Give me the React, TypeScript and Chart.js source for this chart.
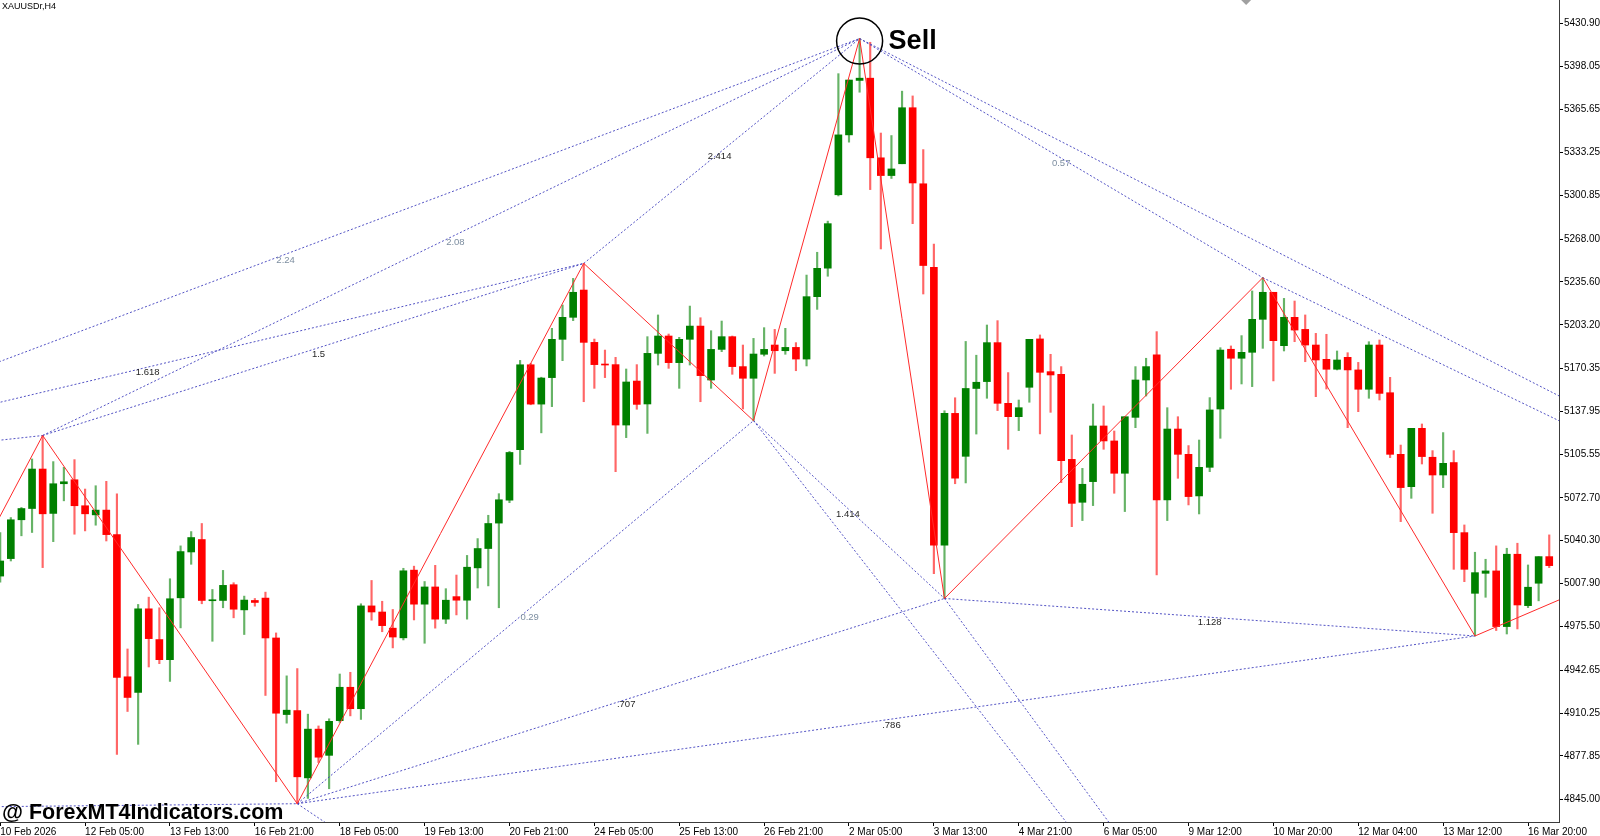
import React, { useEffect, useRef } from 'react';
import { Chart, registerables } from 'chart.js';

Chart.register(...registerables);

const symbolLabel = 'XAUUSDr,H4';
const watermarkText = '@ ForexMT4Indicators.com';

// H4 bars; bar index 0 = 12 Feb 05:00, first visible bar index = -8
const firstBarIndex = -8;

const barOpen = [
  5013.6, 5026.8, 5056.1, 5064.6, 5094.4, 5060.9, 5083.3, 5086.3,
  5066.7, 5059.8, 5063.4, 5044.9, 4937.6, 4925.8, 4988.9, 4965.7, 4950.5, 4997.2,
  5031.8, 5041.2, 4995.0, 4995.2, 5007.1, 4988.1, 4995.2, 4997.0, 4966.9, 4909.1,
  4912.1, 4861.3, 4898.1, 4878.3, 4904.5, 4929.7, 4913.5, 4991.1, 4986.5, 4974.3,
  4967.0, 5018.1, 4992.4, 5005.4, 4981.1, 4998.1, 4995.4, 5019.8, 5034.4, 5053.6,
  5070.9, 5109.0, 5173.1, 5143.4, 5163.4, 5192.3, 5208.9, 5229.5, 5190.0, 5173.4,
  5173.2, 5127.6, 5160.8, 5143.5, 5181.7, 5194.8, 5174.7, 5192.3, 5202.3, 5161.6,
  5184.7, 5194.3, 5171.7, 5162.9, 5181.0, 5188.0, 5183.7, 5186.2, 5177.4, 5224.5,
  5246.0, 5301.4, 5346.6, 5387.7, 5389.4, 5329.3, 5315.9, 5324.8, 5367.1, 5309.7,
  5246.6, 5036.9, 5136.4, 5104.0, 5155.2, 5160.4, 5189.8, 5144.0, 5133.9, 5156.1,
  5192.6, 5167.9, 5165.9, 5101.7, 5069.3, 5084.9, 5126.9, 5115.6, 5091.2, 5133.4,
  5161.6, 5180.5, 5071.1, 5124.6, 5105.5, 5074.1, 5095.7, 5139.7, 5184.8, 5178.0,
  5182.5, 5207.4, 5227.8, 5187.5, 5208.9, 5199.8, 5188.0, 5177.2, 5169.7, 5178.7,
  5169.2, 5154.6, 5188.0, 5152.0, 5105.5, 5081.1, 5125.1, 5103.3, 5089.9, 5099.3,
  5046.4, 5000.6, 5015.7, 5017.5, 4975.5, 5030.1, 4991.3, 5008.2, 5028.3,
];

const barHigh = [
  5046.5, 5057.8, 5065.4, 5102.0, 5119.7, 5100.0, 5095.7, 5101.5,
  5079.3, 5081.8, 5085.1, 5075.7, 4958.6, 4992.2, 4997.7, 4989.7, 5011.6, 5036.4,
  5047.2, 5053.3, 5003.5, 5017.9, 5008.6, 4998.5, 4996.7, 5001.5, 4970.7, 4938.3,
  4943.8, 4909.4, 4900.5, 4905.9, 4939.7, 4941.0, 4992.7, 5010.3, 4994.6, 4988.4,
  5019.5, 5021.1, 5009.5, 5021.7, 5004.1, 5014.4, 5029.2, 5041.9, 5059.5, 5075.8,
  5107.7, 5176.4, 5174.2, 5163.7, 5200.6, 5218.2, 5238.3, 5249.6, 5192.5, 5184.2,
  5178.7, 5169.9, 5173.2, 5194.3, 5210.7, 5196.3, 5193.8, 5217.4, 5208.6, 5198.8,
  5206.1, 5194.8, 5188.0, 5193.0, 5201.1, 5199.8, 5200.6, 5189.8, 5240.8, 5258.0,
  5281.5, 5392.8, 5388.0, 5419.3, 5416.5, 5348.0, 5346.1, 5379.6, 5376.0, 5335.5,
  5264.2, 5138.4, 5148.2, 5190.7, 5180.3, 5203.1, 5206.4, 5167.2, 5146.5, 5192.3,
  5195.6, 5181.0, 5171.7, 5120.1, 5094.9, 5143.5, 5142.0, 5123.1, 5133.9, 5171.7,
  5178.0, 5198.1, 5140.7, 5133.9, 5112.1, 5116.3, 5148.3, 5186.0, 5187.3, 5195.1,
  5228.8, 5238.8, 5227.8, 5223.2, 5221.2, 5210.7, 5196.8, 5196.1, 5183.5, 5182.2,
  5174.9, 5190.5, 5191.8, 5163.6, 5112.5, 5125.1, 5128.4, 5108.3, 5121.9, 5108.3,
  5052.2, 5031.6, 5026.3, 5036.4, 5034.6, 5038.4, 5022.0, 5028.3, 5044.7,
];

const barLow = [
  5009.1, 5025.0, 5044.0, 5046.5, 5020.0, 5039.6, 5070.4, 5045.2,
  5047.7, 5052.0, 5040.1, 4879.1, 4911.4, 4886.6, 4945.0, 4947.5, 4934.1, 4974.5,
  5022.5, 4992.7, 4964.4, 4989.7, 4982.1, 4969.5, 4990.9, 4923.5, 4858.4, 4902.6,
  4841.8, 4845.8, 4872.9, 4853.1, 4903.2, 4908.1, 4905.4, 4980.3, 4971.6, 4959.4,
  4965.4, 4980.5, 4962.9, 4974.3, 4977.8, 4984.3, 4981.1, 5004.6, 5006.2, 4989.7,
  5069.0, 5097.9, 5142.9, 5121.7, 5141.5, 5176.2, 5206.4, 5145.2, 5155.3, 5163.4,
  5092.4, 5118.1, 5139.5, 5121.3, 5172.9, 5170.4, 5155.3, 5172.9, 5145.2, 5155.3,
  5183.0, 5165.9, 5139.7, 5130.9, 5179.7, 5166.6, 5181.0, 5168.6, 5172.2, 5214.9,
  5239.9, 5300.5, 5341.1, 5378.8, 5305.3, 5260.5, 5313.7, 5324.8, 5279.6, 5226.5,
  5015.4, 4996.7, 5083.3, 5083.9, 5120.8, 5147.8, 5138.5, 5109.3, 5123.4, 5144.8,
  5120.9, 5137.2, 5084.1, 5050.9, 5055.5, 5066.8, 5109.3, 5076.1, 5062.3, 5125.6,
  5149.5, 5014.5, 5055.5, 5087.4, 5067.3, 5060.5, 5092.4, 5117.6, 5154.6, 5158.6,
  5156.6, 5185.5, 5160.9, 5183.5, 5190.5, 5175.4, 5149.0, 5154.8, 5169.2, 5125.6,
  5137.7, 5147.8, 5146.5, 5103.0, 5054.7, 5072.3, 5098.2, 5061.0, 5080.4, 5018.7,
  5009.4, 4968.4, 4997.6, 4972.5, 4969.9, 4973.7, 4989.8, 4994.9, 5020.0,
];

const barClose = [
  5025.0, 5056.1, 5064.6, 5094.4, 5060.6, 5083.3, 5084.8, 5066.7,
  5060.6, 5063.4, 5044.9, 4937.1, 4922.0, 4988.9, 4966.4, 4950.5, 4996.5, 5032.1,
  5042.7, 4995.2, 4995.7, 5006.6, 4988.6, 4995.5, 4993.7, 4966.9, 4910.1, 4912.4,
  4862.1, 4898.1, 4876.9, 4904.0, 4929.7, 4913.5, 4991.1, 4986.5, 4976.2, 4967.6,
  5017.6, 4992.4, 5005.4, 4981.1, 4995.4, 4995.4, 5020.3, 5034.4, 5053.3, 5071.2,
  5106.9, 5173.1, 5143.4, 5163.1, 5192.3, 5208.9, 5227.8, 5190.0, 5173.2, 5172.9,
  5127.6, 5160.1, 5143.2, 5181.7, 5194.8, 5174.7, 5192.3, 5202.3, 5164.9, 5184.7,
  5194.3, 5171.7, 5162.9, 5181.2, 5184.7, 5183.7, 5186.2, 5177.4, 5224.5, 5245.9,
  5279.6, 5346.6, 5388.0, 5389.4, 5329.3, 5315.9, 5320.9, 5367.1, 5310.3, 5248.0,
  5036.9, 5136.4, 5087.5, 5155.2, 5159.9, 5189.8, 5144.0, 5133.9, 5140.7, 5192.3,
  5167.4, 5165.4, 5100.7, 5068.5, 5082.9, 5126.9, 5115.6, 5091.2, 5133.9, 5161.6,
  5171.7, 5071.1, 5124.6, 5105.5, 5073.6, 5095.7, 5139.0, 5184.2, 5178.0, 5182.5,
  5207.4, 5227.8, 5191.3, 5208.9, 5199.3, 5188.0, 5176.7, 5169.7, 5176.7, 5169.2,
  5154.6, 5188.0, 5151.5, 5105.5, 5080.4, 5125.1, 5103.8, 5089.9, 5098.7, 5046.4,
  5018.7, 5016.2, 5017.5, 4975.5, 5030.1, 4991.8, 5005.2, 5028.3, 5021.5,
];

const xTickBars = [-8, 0, 8, 16, 24, 32, 40, 48, 56, 64, 72, 80, 88, 96, 104, 112, 120, 128, 136];
const xTickLabels = [
  '10 Feb 2026', '12 Feb 05:00', '13 Feb 13:00', '16 Feb 21:00', '18 Feb 05:00',
  '19 Feb 13:00', '20 Feb 21:00', '24 Feb 05:00', '25 Feb 13:00', '26 Feb 21:00',
  '2 Mar 05:00', '3 Mar 13:00', '4 Mar 21:00', '6 Mar 05:00', '9 Mar 12:00',
  '10 Mar 20:00', '12 Mar 04:00', '13 Mar 12:00', '16 Mar 20:00',
];

const yTickValues = [
  5430.9, 5398.05, 5365.65, 5333.25, 5300.85, 5268.0, 5235.6, 5203.2, 5170.35, 5137.95,
  5105.55, 5072.7, 5040.3, 5007.9, 4975.5, 4942.65, 4910.25, 4877.85, 4845.0,
];

const viewMinBar = -8.02;
const viewMaxBar = 138.92;
const viewMinPrice = 4828.0;
const viewMaxPrice = 5448.4;

// ZigZag swing points (bar index, price)
const zigzagBars = [-10, -4, 20, 47, 63, 73, 81, 111, 131, 140];
const zigzagPrices = [5028.7, 5119.7, 4841.8, 5249.6, 5130.9, 5419.3, 4996.7, 5238.8, 4968.4, 4999.3];

// Dotted ratio lines between swing points
const fibFromBar = [-12, -4, 47, -12, -4, -12, -12, 20, 20, 20, 20, 63, 63, 81, 81, 73, 73, 111];
const fibFromPrice = [5163.6, 5119.7, 5249.6, 5137.2, 5119.7, 5112.7, 4839.3, 4841.8, 4841.8, 4841.8, 4841.8, 5130.9, 5130.9, 4996.7, 4996.7, 5419.3, 5419.3, 5238.8];
const fibToBar = [73, 73, 73, 47, 47, -4, 20, 63, 81, 131, 24, 81, 94, 97, 131, 111, 140, 140];
const fibToPrice = [5419.3, 5419.3, 5419.3, 5249.6, 5249.6, 5119.7, 4841.8, 5130.9, 4996.7, 4968.4, 4820.3, 4996.7, 4812.2, 4822.3, 4968.4, 5238.8, 5145.2, 5126.7];

const fibLabelText = ['2.24', '2.08', '2.414', '0.57', '1.618', '1.5', '0.29', '1.414', '.707', '.786', '1.128'];
const fibLabelBar = [18.9, 34.9, 59.8, 92.0, 5.9, 22.0, 41.9, 71.9, 51.0, 76.0, 106.0];
const fibLabelPrice = [5251.9, 5265.8, 5330.5, 5325.1, 5167.1, 5181.0, 4982.2, 5060.0, 4916.7, 4901.2, 4978.4];
const fibLabelMuted = [true, true, false, true, false, false, true, false, false, false, false];

const sellBar = 73;
const sellPrice = 5417.5;
const sellText = 'Sell';

const FONT = '"Liberation Sans", Arial, sans-serif';

const overlayPlugin = {
  id: 'mt4Overlay',
  afterDatasetsDraw(chart: any) {
    const { ctx } = chart;
    const xs = chart.scales.x;
    const ys = chart.scales.y;
    ctx.save();
    // ratio labels
    ctx.font = `9.5px ${FONT}`;
    ctx.textAlign = 'center';
    ctx.textBaseline = 'middle';
    fibLabelText.forEach((t, k) => {
      ctx.fillStyle = fibLabelMuted[k] ? '#7d8ea0' : '#262626';
      ctx.fillText(t, xs.getPixelForValue(fibLabelBar[k]), ys.getPixelForValue(fibLabelPrice[k]));
    });
    // sell marker
    const cx = xs.getPixelForValue(sellBar);
    const cy = ys.getPixelForValue(sellPrice);
    ctx.beginPath();
    ctx.arc(cx, cy, 23, 0, Math.PI * 2);
    ctx.strokeStyle = '#000';
    ctx.lineWidth = 1.5;
    ctx.stroke();
    ctx.fillStyle = '#000';
    ctx.font = `bold 27px ${FONT}`;
    ctx.textAlign = 'left';
    ctx.textBaseline = 'middle';
    ctx.fillText(sellText, cx + 29, cy + 1);
    ctx.restore();
  },
  afterDraw(chart: any) {
    const { ctx, chartArea } = chart;
    ctx.save();
    ctx.fillStyle = '#000';
    ctx.font = `9px ${FONT}`;
    ctx.textAlign = 'left';
    ctx.textBaseline = 'top';
    ctx.fillText(symbolLabel, chartArea.left + 2, chartArea.top + 2);
    ctx.font = `bold 21.5px ${FONT}`;
    ctx.textBaseline = 'alphabetic';
    ctx.fillText(watermarkText, chartArea.left + 2, chartArea.bottom - 3);
    // chart shift marker
    const sx = chartArea.left + chartArea.width * 0.7993;
    ctx.fillStyle = '#a0a0a0';
    ctx.beginPath();
    ctx.moveTo(sx - 5, chartArea.top);
    ctx.lineTo(sx + 5, chartArea.top);
    ctx.lineTo(sx, chartArea.top + 5);
    ctx.closePath();
    ctx.fill();
    ctx.restore();
  },
};

export default function App() {
  const canvasRef = useRef<HTMLCanvasElement | null>(null);

  useEffect(() => {
    document.body.style.margin = '0';
    const canvas = canvasRef.current;
    if (!canvas) return;
    const barIdx = barOpen.map((_, k) => firstBarIndex + k);
    const isUp = (k: number) => barClose[k] >= barOpen[k];

    const datasets: any[] = [];
    datasets.push({
      type: 'bar',
      label: 'wicks',
      data: barIdx.map((b, k) => ({ x: b, y: [barLow[k], barHigh[k]] })),
      backgroundColor: barIdx.map((_, k) => (isUp(k) ? 'rgba(0,128,0,0.6)' : 'rgba(255,0,0,0.6)')),
      borderWidth: 0,
      barThickness: 1.5,
      grouped: false,
      order: 20,
    });
    datasets.push({
      type: 'bar',
      label: 'bodies',
      data: barIdx.map((b, k) => ({ x: b, y: [barOpen[k], barClose[k]] })),
      backgroundColor: barIdx.map((_, k) => (isUp(k) ? '#008000' : '#ff0000')),
      borderWidth: 0,
      borderSkipped: false,
      barThickness: 7,
      minBarLength: 1,
      grouped: false,
      order: 10,
    });
    fibFromBar.forEach((_, k) => {
      datasets.push({
        type: 'line',
        label: 'ratio' + k,
        data: [
          { x: fibFromBar[k], y: fibFromPrice[k] },
          { x: fibToBar[k], y: fibToPrice[k] },
        ],
        borderColor: 'rgba(64,64,190,0.9)',
        borderWidth: 1,
        borderDash: [2, 2],
        pointRadius: 0,
        fill: false,
        tension: 0,
        order: 3,
      });
    });
    datasets.push({
      type: 'line',
      label: 'zigzag',
      data: zigzagBars.map((b, k) => ({ x: b, y: zigzagPrices[k] })),
      borderColor: '#ff2a2a',
      borderWidth: 1,
      pointRadius: 0,
      fill: false,
      tension: 0,
      order: 1,
    });

    const chart = new Chart(canvas, {
      type: 'bar',
      data: { datasets },
      options: {
        responsive: false,
        animation: false,
        events: [],
        layout: { padding: 0 },
        plugins: { legend: { display: false }, tooltip: { enabled: false } },
        scales: {
          x: {
            type: 'linear',
            position: 'bottom',
            min: viewMinBar,
            max: viewMaxBar,
            offset: false,
            grid: { display: true, drawOnChartArea: false, drawTicks: true, tickLength: 4, color: '#000', offset: false },
            border: { display: true, color: '#3c3c3c', width: 1 },
            afterBuildTicks: (scale: any) => {
              scale.ticks = xTickBars.map((v) => ({ value: v }));
            },
            afterFit: (scale: any) => {
              scale.height = 14;
              scale.paddingLeft = 0;
              scale.paddingRight = 0;
            },
            ticks: {
              autoSkip: false,
              maxRotation: 0,
              minRotation: 0,
              align: 'start',
              padding: 0,
              color: '#000',
              font: { family: FONT, size: 10 },
              callback: (value: any) => {
                const k = xTickBars.indexOf(Number(value));
                return k >= 0 ? xTickLabels[k] : '';
              },
            },
          },
          y: {
            type: 'linear',
            position: 'right',
            min: viewMinPrice,
            max: viewMaxPrice,
            grid: { display: true, drawOnChartArea: false, drawTicks: true, tickLength: 4, color: '#000' },
            border: { display: true, color: '#3c3c3c', width: 1 },
            afterBuildTicks: (scale: any) => {
              scale.ticks = yTickValues.map((v) => ({ value: v }));
            },
            afterFit: (scale: any) => {
              scale.width = 41;
              scale.paddingTop = 0;
              scale.paddingBottom = 0;
            },
            ticks: {
              padding: 1,
              color: '#000',
              font: { family: FONT, size: 10 },
              callback: (value: any) => Number(value).toFixed(2),
            },
          },
        },
      } as any,
      plugins: [overlayPlugin],
    });
    return () => chart.destroy();
  }, []);

  return (
    <div style={{ width: 1600, height: 836, background: '#fff', position: 'relative' }}>
      <canvas ref={canvasRef} width={1600} height={836} style={{ width: 1600, height: 836, display: 'block' }} />
    </div>
  );
}
